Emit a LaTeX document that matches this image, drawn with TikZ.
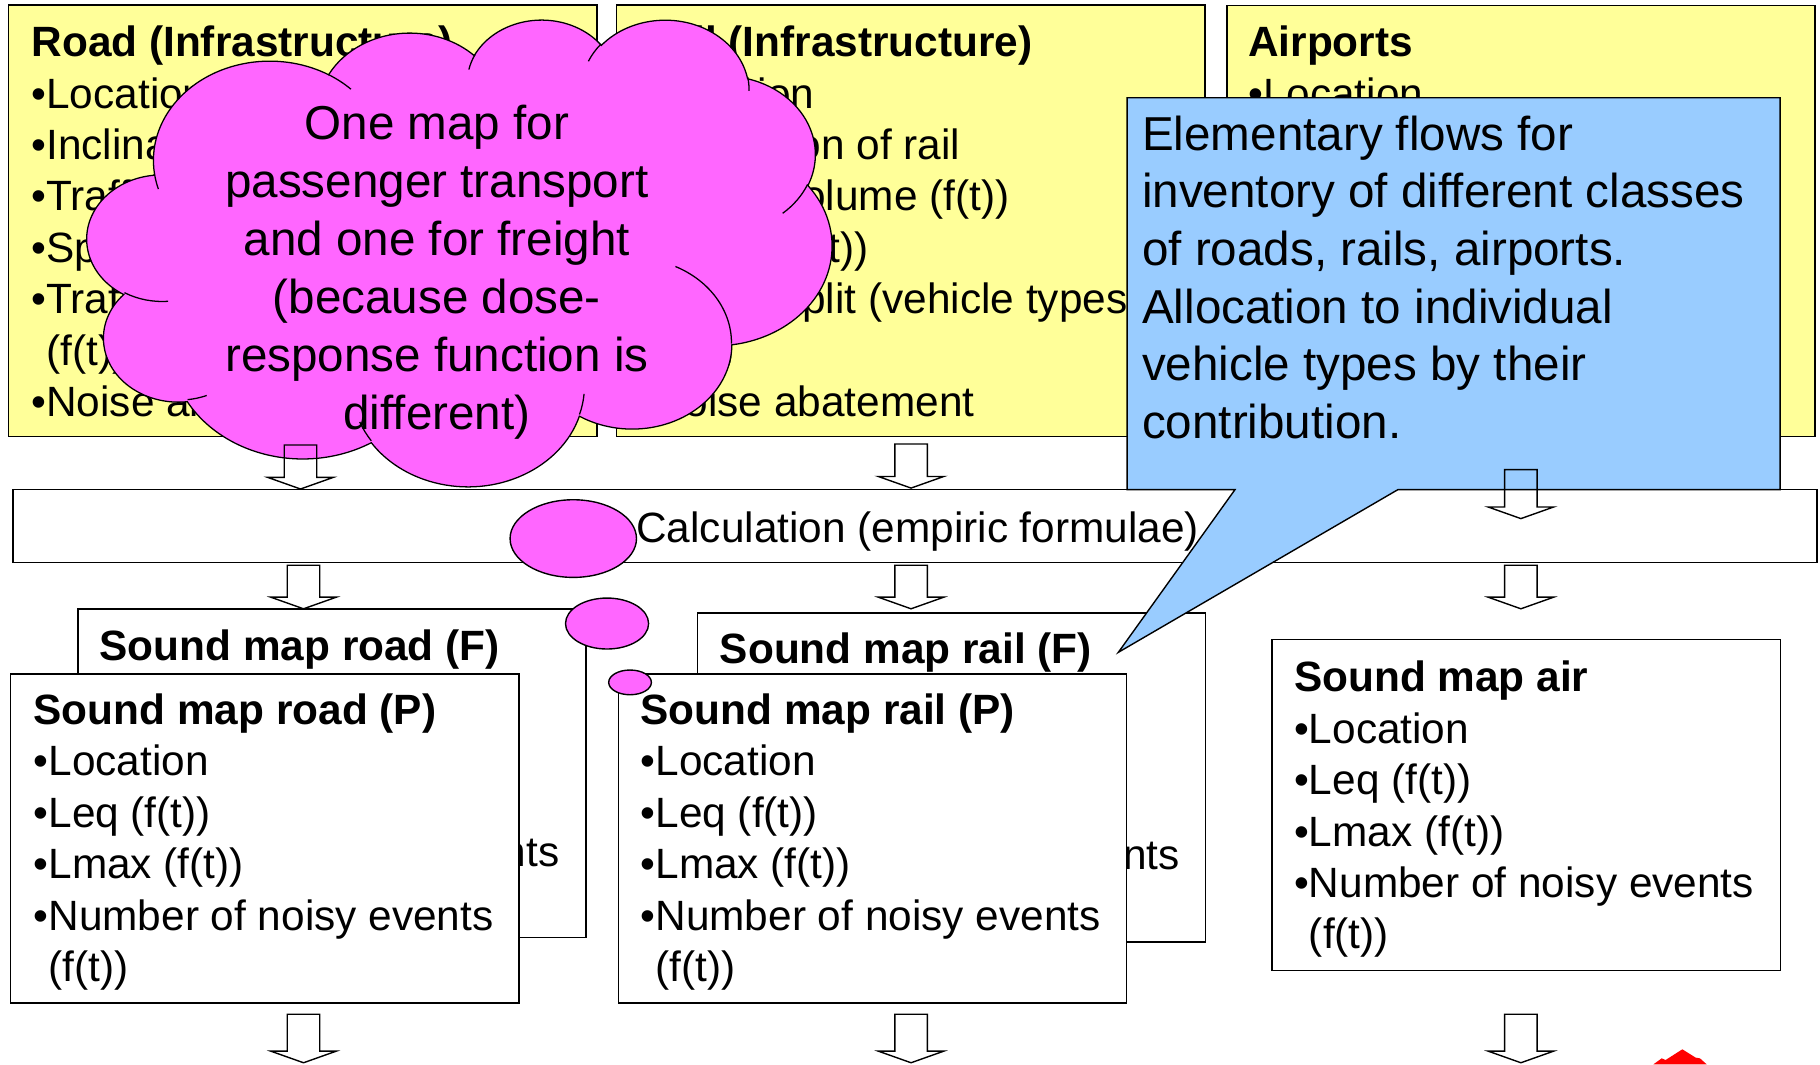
\documentclass[tikz,border=0pt]{standalone}
\usepackage{fontspec}
\setmainfont{Liberation Sans}
\usetikzlibrary{calc,shapes.geometric}

\definecolor{infoyellow}{HTML}{FFFF99}
\definecolor{notepink}{HTML}{FF66FF}
\definecolor{noteblue}{HTML}{99CCFF}

\newcommand\bodyfont{\fontsize{36.5}{44.3}\selectfont}
\newcommand\notefont{\fontsize{41}{49.6}\selectfont}

% cloud geometry: coordinates in hundredths of the 432 x 432 cloud frame
\newcommand\cpt[2]{({75.2+(#1)*1.48472},{16+(#2)*0.93056})}
\newcommand\carc[4]{arc[start angle={-(#3)}, end angle={-(#4)},
  x radius={(#1)*1.48472pt}, y radius={(#2)*0.93056pt}]}

% a column of text lines: name prefix, x, first baseline, pitch, style, lines
\newcommand\linesat[6]{%
  \foreach \lineitem [count=\idx] in {#6}
    \node[#5] (#1-\idx) at (#2,{#3+(\idx-1)*(#4)}) {\lineitem};}

% hollow block arrow from the top of its shaft to its tip
\newcommand\flowarrow[2]{%
  \draw[flow] ($(#1)+(-14,0)$) -- ($(#1)+(14,0)$) -- ($(#2)+(14,-10)$)
    -- ($(#2)+(28.2,-10)$) -- (#2) -- ($(#2)+(-28.2,-10)$)
    -- ($(#2)+(-14,-10)$) -- cycle;}

\tikzset{
  bodyline/.style={anchor=base west, inner sep=0pt, outer sep=0pt, font=\bodyfont},
  noteline/.style={anchor=base west, inner sep=0pt, outer sep=0pt, font=\notefont},
  cloudline/.style={anchor=base, inner sep=0pt, outer sep=0pt, font=\notefont},
  frame/.style={draw=black, line width=1.2pt, inner sep=0pt, outer sep=0pt, anchor=north west},
  infobox/.style={frame, fill=infoyellow},
  mapbox/.style={frame, fill=white},
  flow/.style={draw=black, line width=1.2pt, line join=miter},
  bubble/.style={ellipse, draw=black, line width=1.2pt, fill=notepink, inner sep=0pt, outer sep=0pt},
  outline/.style={draw=black, line width=1.2pt},
}

\begin{document}
\begin{tikzpicture}[x=1pt, y=-1pt]
\useasboundingbox (0,0) rectangle (1568,917);

% ---- infrastructure boxes ----
\node[infobox, minimum width=506.9pt, minimum height=371.9pt] (road) at (7.5,4.3) {};
\node[infobox, minimum width=507pt, minimum height=371.9pt] (rail) at (531.2,4.3) {};
\node[infobox, minimum width=506.6pt, minimum height=371.5pt] (airports) at (1057,4.5) {};
\linesat{roadtxt}{27.2}{48.8}{44.3}{bodyline}{{\textbf{Road (Infrastructure)}},•Location,•Inclination,•Traffic volume (f(t)),•Speed (f(t)),•Traffic split (vehicle types),{\phantom{•}(f(t))},•Noise abatement}
\linesat{railtxt}{550.8}{48.8}{44.3}{bodyline}{{\textbf{Rail (Infrastructure)}},•Location,•Inclination of rail,•Traffic volume (f(t)),•Speed (f(t)),•Traffic split (vehicle types),{\phantom{•}(f(t))},•Noise abatement}
\linesat{airtxt}{1075.4}{48.8}{44.3}{bodyline}{{\textbf{Airports}},•Location}

% ---- calculation step ----
\node[mapbox, minimum width=1554.1pt, minimum height=62.8pt] (calc) at (11.2,421.9) {};
\node[bodyline, anchor=base] (calctxt) at (790.6,467.5) {Calculation (empiric formulae)};

% ---- sound maps (freight cards lie behind the passenger cards) ----
\node[mapbox, minimum width=437.8pt, minimum height=282.8pt] (roadF) at (67.1,524.8) {};
\node[bodyline] (roadFtitle) at (85.8,569.4) {\textbf{Sound map road (F)}};
\node[bodyline] (roadFevents) at (85.8,746.6) {•Number of noisy events};
\node[mapbox, minimum width=437.8pt, minimum height=283.5pt] (roadP) at (9.2,580.7) {};
\linesat{roadPtxt}{29}{624.2}{44.3}{bodyline}{{\textbf{Sound map road (P)}},•Location,•Leq (f(t)),•Lmax (f(t)),•Number of noisy events,{\phantom{•}(f(t))}}

\node[mapbox, minimum width=437.7pt, minimum height=283.5pt] (railF) at (601.1,528.2) {};
\node[bodyline] (railFtitle) at (620.2,572) {\textbf{Sound map rail (F)}};
\node[bodyline] (railFevents) at (620.2,749.2) {•Number of noisy events};
\node[mapbox, minimum width=437.7pt, minimum height=283.5pt] (railP) at (533,580.7) {};
\linesat{railPtxt}{552}{624.2}{44.3}{bodyline}{{\textbf{Sound map rail (P)}},•Location,•Leq (f(t)),•Lmax (f(t)),•Number of noisy events,{\phantom{•}(f(t))}}

\node[mapbox, minimum width=438pt, minimum height=284.9pt] (air) at (1096,551.1) {};
\linesat{airmaptxt}{1114.9}{596}{44.3}{bodyline}{{\textbf{Sound map air}},•Location,•Leq (f(t)),•Lmax (f(t)),•Number of noisy events,{\phantom{•}(f(t))}}

% ---- thought cloud ----
\draw[outline, line width=1.1pt, fill=notepink] \cpt{39.00}{143.70}
  \carc{67.53}{91.90}{-187.75}{-59.64}
  \carc{53.33}{72.67}{-152.01}{-45.45}
  \carc{43.65}{59.45}{-153.49}{-37.33}
  \carc{48.57}{65.95}{-139.72}{-10.21}
  \carc{53.33}{72.73}{-74.77}{23.21}
  \carc{67.75}{92.20}{-37.53}{81.86}
  \carc{57.85}{78.67}{0.46}{121.98}
  \carc{67.52}{92.15}{16.84}{146.22}
  \carc{77.20}{105.43}{58.98}{150.20}
  \carc{43.60}{59.18}{83.31}{223.12}
  \carc{43.45}{59.45}{120.36}{264.11}
  -- cycle;
% inner strokes where the lobes overlap
\draw[outline, line width=1.1pt]
  \cpt{46.93}{261.77} \carc{43.45}{59.45}{85.54}{120.36}
  \cpt{69.28}{348.99} \carc{43.60}{59.18}{68.23}{83.31}
  \cpt{164.78}{390.90} \carc{67.52}{92.15}{146.22}{158.47}
  \cpt{288.27}{347.51} \carc{67.52}{92.15}{4.74}{16.84}
  \cpt{341.29}{229.54} \carc{57.85}{78.67}{-64.03}{0.46}
  \cpt{417.98}{153.54} \carc{53.33}{72.73}{23.21}{49.64}
  \cpt{383.24}{54.26} \carc{48.57}{65.95}{-10.21}{0.82}
  \cpt{290.78}{39.52} \carc{48.57}{65.95}{-156.30}{-139.72}
  \cpt{221.41}{47.20} \carc{43.65}{59.45}{-167.72}{-153.49}
  \cpt{140.00}{51.92} \carc{67.53}{91.90}{-59.64}{-45.75}
  \cpt{41.27}{157.89} \carc{67.53}{91.90}{163.19}{172.25};
\linesat{cloudtxt}{376.4}{120.6}{49.8}{cloudline}{One map for,passenger transport,and one for freight,{(because dose-},response function is,{different)}}

% thought bubbles trailing from the cloud
\node[bubble, minimum width=108.9pt, minimum height=66.9pt] (bubbleA) at (493.9,464) {};
\node[bubble, minimum width=71.6pt, minimum height=43.9pt] (bubbleB) at (523,537.2) {};
\node[bubble, minimum width=36.8pt, minimum height=21.3pt] (bubbleC) at (542.8,587.9) {};

% ---- callout on elementary flows ----
\coordinate (calloutTip) at (963.5,562);
\draw[outline, fill=noteblue, line join=miter] (971,84.2) -- (1533.6,84.2) -- (1533.6,421.8)
  -- (1204.4,421.8) -- (calloutTip) -- (1064,421.8) -- (971,421.8) -- cycle;
\linesat{notetxt}{984}{129.5}{49.6}{noteline}{Elementary flows for,inventory of different classes,{of roads, rails, airports.},Allocation to individual,vehicle types by their,contribution.}

% ---- flow arrows ----
\coordinate (roadIn) at (258.9,383.4);  \coordinate (roadInTip) at (258.9,421.3);
\coordinate (railIn) at (784.9,382.5);  \coordinate (railInTip) at (784.9,420.5);
\coordinate (airIn) at (1310.3,404.6);  \coordinate (airInTip) at (1310.3,446.8);
\coordinate (roadMid) at (261.5,487);   \coordinate (roadMidTip) at (261.5,524.5);
\coordinate (railMid) at (784.9,487);   \coordinate (railMidTip) at (784.9,524.5);
\coordinate (airMid) at (1310.3,487);   \coordinate (airMidTip) at (1310.3,524.5);
\coordinate (roadOut) at (261.5,873.8); \coordinate (roadOutTip) at (261.5,915.6);
\coordinate (railOut) at (784.9,873.8); \coordinate (railOutTip) at (784.9,915.6);
\coordinate (airOut) at (1310.3,873.8); \coordinate (airOutTip) at (1310.3,915.6);
\flowarrow{roadIn}{roadInTip}
\flowarrow{railIn}{railInTip}
\flowarrow{airIn}{airInTip}
\flowarrow{roadMid}{roadMidTip}
\flowarrow{railMid}{railMidTip}
\flowarrow{airMid}{airMidTip}
\flowarrow{roadOut}{roadOutTip}
\flowarrow{railOut}{railOutTip}
\flowarrow{airOut}{airOutTip}

% corner mark at the lower edge
\fill[red] (1424.4,917) -- (1431.6,911.8) -- (1435,913.2) -- (1449.4,904)
  -- (1460.9,911.2) -- (1464.6,911.8) -- (1470.4,917) -- cycle;
\end{tikzpicture}
\end{document}
